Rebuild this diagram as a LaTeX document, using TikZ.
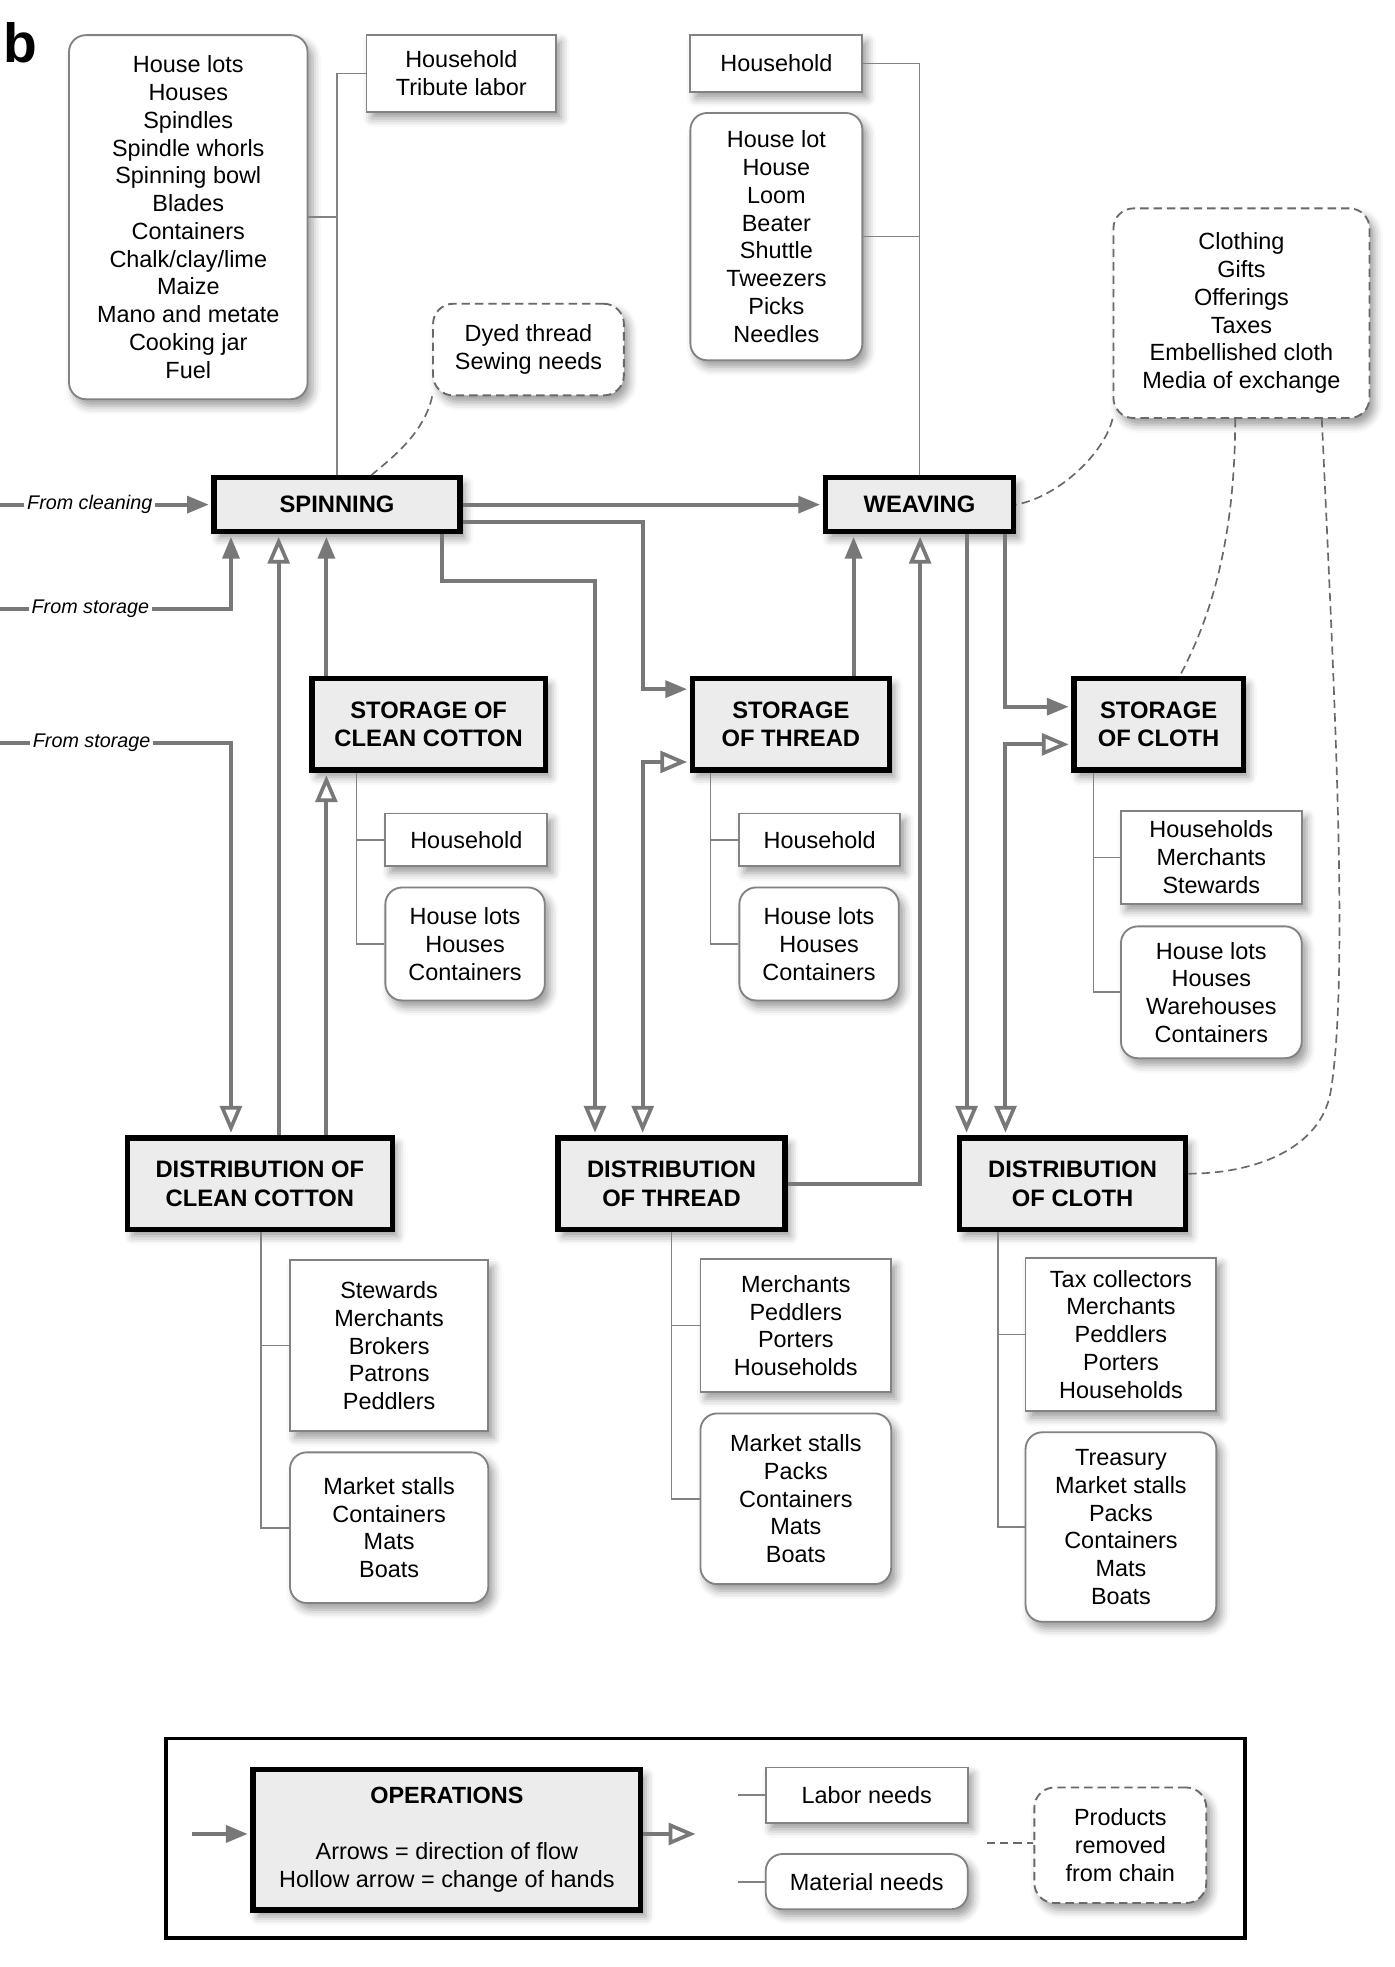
\documentclass[tikz,border=0pt]{standalone}
\usepackage{fontspec}
\setmainfont{Liberation Sans}
\usetikzlibrary{arrows.meta,shadows.blur}

\definecolor{opfill}{RGB}{236,236,236}
\definecolor{flowgray}{RGB}{120,120,120}
\definecolor{boxgray}{RGB}{130,130,130}
\definecolor{gonegray}{RGB}{105,105,105}

\newcommand{\itemfont}{\fontsize{14}{16.6}\selectfont}
\newcommand{\opfont}{\fontsize{14.2}{17.2}\selectfont\bfseries}
\newcommand{\srcfont}{\fontsize{11.8}{14}\selectfont\itshape}

\tikzset{every picture/.style={line width=0.75pt}}
\tikzset{
  boxsize/.style 2 args={minimum width=#1*0.75pt, minimum height=#2*0.75pt},
  boxshadow/.style={blur shadow={shadow xshift=3pt, shadow yshift=-4pt, shadow blur radius=5pt, shadow opacity=40}},
  opbox/.style={draw=black, line width=3.2pt, fill=opfill, align=center, inner sep=0pt, font=\opfont, boxshadow},
  labbox/.style={draw=boxgray, line width=1.1pt, fill=white, align=center, inner sep=0pt, font=\itemfont, boxshadow},
  matbox/.style={labbox, rounded corners=10pt},
  gonebox/.style={labbox, rounded corners=12pt, draw=gonegray, dash pattern=on 5pt off 3pt},
  srclabel/.style={inner sep=1.5pt, font=\srcfont},
  plain/.style={draw=flowgray, line width=2.4pt},
  flow/.style={plain, shorten >=1.5pt, -{Triangle[length=13pt, width=10pt]}},
  hand/.style={plain, shorten >=1.5pt, -{Triangle[open, length=16pt, width=13pt, line width=2.2pt]}},
  handboth/.style={plain, shorten >=1.5pt, shorten <=1.5pt, {Triangle[open, length=16pt, width=13pt, line width=2.2pt]}-{Triangle[open, length=16pt, width=13pt, line width=2.2pt]}},
  link/.style={draw=boxgray, line width=1pt},
  gone/.style={draw=gonegray, line width=1pt, dash pattern=on 5pt off 3pt},
}

\begin{document}
\begin{tikzpicture}[x=0.75pt,y=0.75pt,yscale=-1,xscale=1]
\useasboundingbox (0,0) rectangle (1111,1567);

\draw (2,50) node [anchor=base west, inner sep=0pt, font=\fontsize{33}{33}\selectfont\bfseries] (panel) {b};

%Operations
\draw (268.5,402) node [opbox, boxsize={196}{43}] (spin) {SPINNING};
\draw (732.5,402) node [opbox, boxsize={150}{43}] (weave) {WEAVING};
\draw (341.5,577) node [opbox, boxsize={186}{73}] (stocc) {STORAGE OF\\CLEAN COTTON};
\draw (630,577) node [opbox, boxsize={157}{73}] (stothr) {STORAGE\\OF THREAD};
\draw (923,577) node [opbox, boxsize={135}{73}] (stocl) {STORAGE\\OF CLOTH};
\draw (207,943) node [opbox, boxsize={211}{73}] (dcc) {DISTRIBUTION OF\\CLEAN COTTON};
\draw (535,943) node [opbox, boxsize={181}{73}] (dthr) {DISTRIBUTION\\OF THREAD};
\draw (854.5,943) node [opbox, boxsize={180}{73}] (dcl) {DISTRIBUTION\\OF CLOTH};

%Labor needs
\draw (367.5,58.5) node [labbox, boxsize={151}{61}] (spinlab) {Household\\Tribute labor};
\draw (618.5,50.5) node [labbox, boxsize={137}{45}] (weavelab) {Household};
\draw (371.5,669) node [labbox, boxsize={129}{42}] (stocclab) {Household};
\draw (653,669) node [labbox, boxsize={128}{42}] (stothrlab) {Household};
\draw (965,683) node [labbox, boxsize={144}{74}] (stocllab) {Households\\Merchants\\Stewards};
\draw (310,1072) node [labbox, boxsize={158}{136}] (dcclab) {Stewards\\Merchants\\Brokers\\Patrons\\Peddlers};
\draw (634,1056) node [labbox, boxsize={152}{106}] (dthrlab) {Merchants\\Peddlers\\Porters\\Households};
\draw (893,1063) node [labbox, boxsize={152}{122}] (dcllab) {Tax collectors\\Merchants\\Peddlers\\Porters\\Households};

%Material needs
\draw (150,173) node [matbox, boxsize={190}{290}] (spinmat) {House lots\\Houses\\Spindles\\Spindle whorls\\Spinning bowl\\Blades\\Containers\\Chalk/clay/lime\\Maize\\Mano and metate\\Cooking jar\\Fuel};
\draw (618.5,188.5) node [matbox, boxsize={137}{197}] (weavemat) {House lot\\House\\Loom\\Beater\\Shuttle\\Tweezers\\Picks\\Needles};
\draw (370.5,752) node [matbox, boxsize={127}{90}] (stoccmat) {House lots\\Houses\\Containers};
\draw (652.5,752) node [matbox, boxsize={127}{90}] (stothrmat) {House lots\\Houses\\Containers};
\draw (965,790.5) node [matbox, boxsize={144}{105}] (stoclmat) {House lots\\Houses\\Warehouses\\Containers};
\draw (310,1217) node [matbox, boxsize={158}{120}] (dccmat) {Market stalls\\Containers\\Mats\\Boats};
\draw (634,1194) node [matbox, boxsize={152}{136}] (dthrmat) {Market stalls\\Packs\\Containers\\Mats\\Boats};
\draw (893,1216.5) node [matbox, boxsize={152}{151}] (dclmat) {Treasury\\Market stalls\\Packs\\Containers\\Mats\\Boats};

%Products removed
\draw (421,278.5) node [gonebox, boxsize={152}{73}] (spinout) {Dyed thread\\Sewing needs};
\draw (989,249.5) node [gonebox, boxsize={204}{167}] (weaveout) {Clothing\\Gifts\\Offerings\\Taxes\\Embellished cloth\\Media of exchange};

%Labor and material lines
\draw[link] (spin.north) |- (spinlab.west);
\draw[link] (spinmat.east) -- (spinmat.east -| spin.north);
\draw[link] (weave.north) |- (weavelab.east);
\draw[link] (weavemat.east) -- (weavemat.east -| weave.north);
\draw[link] (stocc.south -| 284,0) |- (stoccmat.west);
\draw[link] (stocclab.west) -- (stocclab.west -| 284,0);
\draw[link] (stothr.south -| 566,0) |- (stothrmat.west);
\draw[link] (stothrlab.west) -- (stothrlab.west -| 566,0);
\draw[link] (stocl.south -| 871,0) |- (stoclmat.west);
\draw[link] (stocllab.west) -- (stocllab.west -| 871,0);
\draw[link] (dcc.south -| 208,0) |- (dccmat.west);
\draw[link] (dcclab.west) -- (dcclab.west -| 208,0);
\draw[link] (dthr.south -| 535,0) |- (dthrmat.west);
\draw[link] (dthrlab.west) -- (dthrlab.west -| 535,0);
\draw[link] (dcl.south -| 795,0) |- (dclmat.west);
\draw[link] (dcllab.west) -- (dcllab.west -| 795,0);

%Incoming flows
\coordinate (srcclean) at (0,402);
\coordinate (srcsto1) at (0,485);
\coordinate (srcsto2) at (0,592);
\draw (71.5,402) node [srclabel] (lblclean) {From cleaning};
\draw (72,485) node [srclabel] (lblsto1) {From storage};
\draw (73,592) node [srclabel] (lblsto2) {From storage};
\draw[plain] (srcclean) -- (lblclean.west);
\draw[flow] (lblclean.east) -- (spin.west);
\draw[plain] (srcsto1) -- (lblsto1.west);
\draw[flow] (lblsto1.east) -| (spin.south -| 184,0);
\draw[plain] (srcsto2) -- (lblsto2.west);
\draw[hand] (lblsto2.east) -| (dcc.north -| 184,0);

%Clean cotton
\draw[hand] (dcc.north -| 222,0) -- (spin.south -| 222,0);
\draw[hand] (dcc.north -| 260,0) -- (stocc.south -| 260,0);
\draw[flow] (stocc.north -| 260,0) -- (spin.south -| 260,0);

%Thread
\draw[flow] (spin.east) -- (weave.west);
\draw[flow] (spin.east |- 0,416) -| (512,549) -- (stothr.west |- 0,549);
\draw[hand] (spin.south -| 352,0) |- (474,463) -- (dthr.north -| 474,0);
\draw[flow] (stothr.north -| 680,0) -- (weave.south -| 680,0);
\draw[handboth] (stothr.west |- 0,607) -| (dthr.north -| 512,0);
\draw[hand] (dthr.east) -| (weave.south -| 733,0);

%Cloth
\draw[hand] (weave.south -| 770,0) -- (dcl.north -| 770,0);
\draw[flow] (weave.south -| 801,0) |- (stocl.west |- 0,563);
\draw[handboth] (stocl.west |- 0,593) -| (dcl.north -| 801,0);

%Removed from chain
\draw[gone] (spinout.south west) .. controls (338,345) and (312,365) .. (spin.north -| 296,0);
\draw[gone] (weaveout.south west) .. controls (880,360) and (845,395) .. (weave.east);
\draw[gone] (weaveout.south -| 984,0) .. controls (984,440) and (960,500) .. (stocl.north -| 940,0);
\draw[gone] (weaveout.south -| 1053,0) .. controls (1063,550) and (1075,780) .. (1060,870) .. controls (1052,915) and (1000,935) .. (dcl.east |- 0,935);

%Legend
\draw (562,1464.5) node [draw=black, line width=2.2pt, boxsize={860}{159}] (legend) {};
\draw (356,1465.5) node [opbox, boxsize={309}{112}, font=\itemfont] (legop) {\textbf{OPERATIONS}\\[17pt]Arrows = direction of flow\\Hollow arrow = change of hands};
\draw (690.5,1430) node [labbox, boxsize={161}{44}] (leglab) {Labor needs};
\draw (690.5,1499) node [matbox, boxsize={161}{44}] (legmat) {Material needs};
\draw (892.5,1470) node [gonebox, boxsize={137}{92}] (legrem) {Products\\removed\\from chain};
\coordinate (legin) at (153,1461);
\coordinate (legout) at (556,1461);
\coordinate (leglabend) at (588,1430);
\coordinate (legmatend) at (588,1499);
\coordinate (legremend) at (786,1468);
\draw[flow] (legin) -- (legop.west |- legin);
\draw[hand] (legop.east |- legout) -- (legout);
\draw[link] (leglabend) -- (leglab.west);
\draw[link] (legmatend) -- (legmat.west);
\draw[gone] (legremend) -- (legrem.west |- legremend);

\end{tikzpicture}
\end{document}
